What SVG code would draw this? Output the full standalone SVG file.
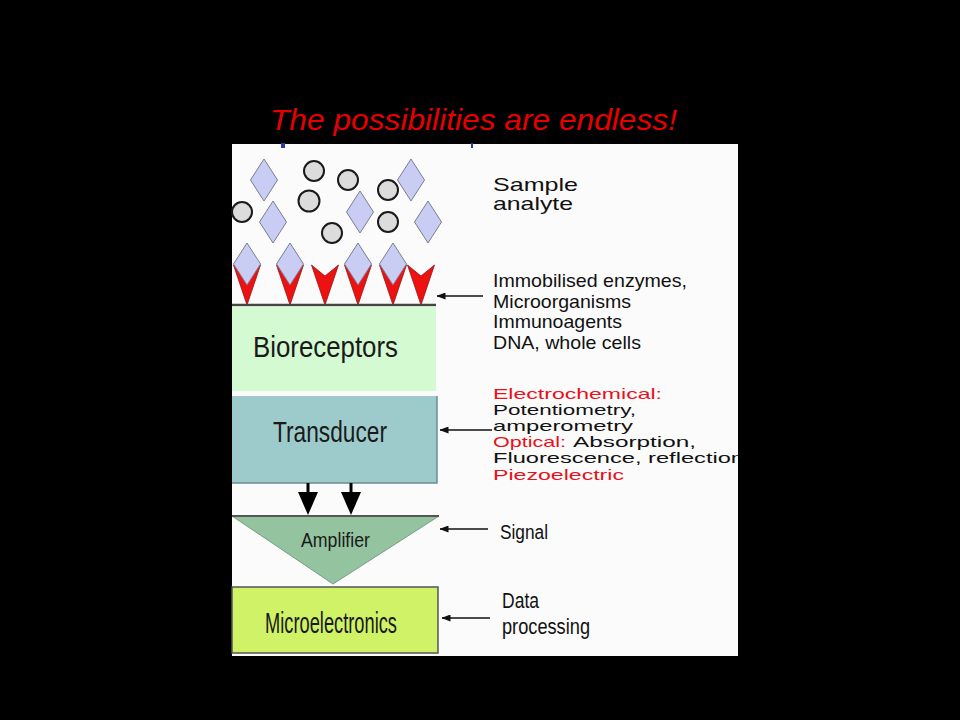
<svg xmlns="http://www.w3.org/2000/svg" xmlns:xlink="http://www.w3.org/1999/xlink" width="960" height="720" viewBox="0 0 960 720">
  <style>
    .t { font-family: "Liberation Sans", Arial, sans-serif; fill: #111; }
    .red { fill: #e8101a; }
    .lbl { font-family: "Liberation Sans", Arial, sans-serif; fill: #1a1a1a; }
    .mol { fill: #dcdcdc; stroke: #1a1a1a; stroke-width: 2; }
    .dia { fill: #c9cdf4; stroke: #7a7d92; stroke-width: 1; }
    .rec { fill: #ee1111; stroke: #8a1a1a; stroke-width: 0.8; }
    .thin { stroke: #111; stroke-width: 1.6; fill: none; marker-end: url(#ah); }
  </style>
  <defs>
    <marker id="ah" viewBox="0 0 9 7" refX="8.5" refY="3.5" markerWidth="9" markerHeight="7" markerUnits="userSpaceOnUse" orient="auto">
      <path d="M0,0 L9,3.5 L0,7 Z" fill="#111"/>
    </marker>
    <path id="dm" d="M0,-21 L13.5,0 L0,21 L-13.5,0 Z"/>
    <path id="vv" d="M-13.5,-40 L0,-29 L13.5,-40 L0,0 Z"/>
    <clipPath id="panel"><rect x="232" y="144" width="506" height="512"/></clipPath>
  </defs>

  <rect x="0" y="0" width="960" height="720" fill="#000"/>

  <text x="270" y="130" font-family="'Liberation Sans', Arial, sans-serif" font-style="italic" font-size="29" fill="#e60000" textLength="407" lengthAdjust="spacingAndGlyphs">The possibilities are endless!</text>

  <rect x="232" y="144" width="506" height="512" fill="#fbfbfb"/>
  <rect x="281" y="143" width="4" height="5" fill="#2a3aa8"/>
  <rect x="471" y="143" width="2" height="5" fill="#2a3aa8"/>

  <g id="analyte">
    <use href="#dm" class="dia" x="264" y="180"/>
    <use href="#dm" class="dia" x="273" y="222"/>
    <use href="#dm" class="dia" x="360" y="212"/>
    <use href="#dm" class="dia" x="411" y="180"/>
    <use href="#dm" class="dia" x="428" y="222"/>
    <circle class="mol" cx="314" cy="171" r="10"/>
    <circle class="mol" cx="348" cy="180" r="10"/>
    <circle class="mol" cx="388" cy="190" r="10"/>
    <circle class="mol" cx="309" cy="201" r="10.5"/>
    <circle class="mol" cx="242" cy="212" r="10"/>
    <circle class="mol" cx="332" cy="233" r="10"/>
    <circle class="mol" cx="388" cy="222" r="10"/>
  </g>

  <g id="receptors">
    <use href="#vv" class="rec" x="247" y="305"/>
    <use href="#vv" class="rec" x="290" y="305"/>
    <use href="#vv" class="rec" x="325" y="305"/>
    <use href="#vv" class="rec" x="358" y="305"/>
    <use href="#vv" class="rec" x="393" y="305"/>
    <use href="#vv" class="rec" x="421" y="305"/>
    <use href="#dm" class="dia" x="247" y="264"/>
    <use href="#dm" class="dia" x="290" y="264"/>
    <use href="#dm" class="dia" x="358" y="264"/>
    <use href="#dm" class="dia" x="393" y="264"/>
    <line x1="232" y1="305" x2="436" y2="305" stroke="#444" stroke-width="2.5"/>
  </g>

  <g id="bioreceptors">
    <rect x="232" y="306.5" width="204" height="84.5" fill="#d3fad0"/>
    <text class="lbl" x="253" y="357" font-size="30" textLength="145" lengthAdjust="spacingAndGlyphs">Bioreceptors</text>
  </g>

  <g id="transducer">
    <rect x="232" y="396" width="205" height="87" fill="#9dcbcb"/>
    <path d="M437,396 L437,483 L232,483" fill="none" stroke="#6b8e8e" stroke-width="1.5"/>
    <text class="lbl" x="273" y="442" font-size="30" textLength="114" lengthAdjust="spacingAndGlyphs">Transducer</text>
  </g>

  <g id="amplifier">
    <polygon points="232,516 439,516 333,584" fill="#94c3a0" stroke="#7a9e84" stroke-width="1"/>
    <line x1="232" y1="516" x2="439" y2="516" stroke="#555" stroke-width="2"/>
    <text class="lbl" x="301" y="547" font-size="19.5" textLength="69" lengthAdjust="spacingAndGlyphs">Amplifier</text>
  </g>

  <g id="microelectronics">
    <rect x="232" y="587" width="206" height="66" fill="#cff267" stroke="#555" stroke-width="1.5"/>
    <text class="lbl" x="265" y="633" font-size="29" textLength="132" lengthAdjust="spacingAndGlyphs">Microelectronics</text>
  </g>

  <g id="label-sample">
    <text class="t" x="493" y="191" font-size="18.5" textLength="85" lengthAdjust="spacingAndGlyphs">Sample</text>
    <text class="t" x="493" y="210" font-size="18.5" textLength="80" lengthAdjust="spacingAndGlyphs">analyte</text>
  </g>

  <g id="label-receptors">
    <text class="t" x="493" y="287" font-size="19" textLength="194" lengthAdjust="spacingAndGlyphs">Immobilised enzymes,</text>
    <text class="t" x="493" y="307.5" font-size="19" textLength="138" lengthAdjust="spacingAndGlyphs">Microorganisms</text>
    <text class="t" x="493" y="328" font-size="19" textLength="129" lengthAdjust="spacingAndGlyphs">Immunoagents</text>
    <text class="t" x="493" y="349" font-size="19" textLength="148" lengthAdjust="spacingAndGlyphs">DNA, whole cells</text>
  </g>

  <g id="label-transducer" clip-path="url(#panel)">
    <text class="t red" x="493" y="398.5" font-size="14.5" textLength="169" lengthAdjust="spacingAndGlyphs">Electrochemical:</text>
    <text class="t" x="493" y="414.7" font-size="14.5" textLength="143" lengthAdjust="spacingAndGlyphs">Potentiometry,</text>
    <text class="t" x="493" y="430.9" font-size="14.5" textLength="140" lengthAdjust="spacingAndGlyphs">amperometry</text>
    <text class="t red" x="493" y="447.1" font-size="14.5" textLength="73" lengthAdjust="spacingAndGlyphs">Optical:</text>
    <text class="t" x="573" y="447.1" font-size="14.5" textLength="123" lengthAdjust="spacingAndGlyphs">Absorption,</text>
    <text class="t" x="493" y="463.3" font-size="14.5" textLength="251" lengthAdjust="spacingAndGlyphs">Fluorescence, reflection</text>
    <text class="t red" x="493" y="479.5" font-size="14.5" textLength="131" lengthAdjust="spacingAndGlyphs">Piezoelectric</text>
  </g>

  <g id="label-signal">
    <text class="t" x="500" y="539" font-size="20" textLength="48" lengthAdjust="spacingAndGlyphs">Signal</text>
  </g>

  <g id="label-data">
    <text class="t" x="502" y="608" font-size="22" textLength="37" lengthAdjust="spacingAndGlyphs">Data</text>
    <text class="t" x="502" y="634" font-size="22" textLength="88" lengthAdjust="spacingAndGlyphs">processing</text>
  </g>

  <g id="connectors">
    <line class="thin" x1="483" y1="296" x2="437" y2="296"/>
    <line class="thin" x1="492" y1="430" x2="440" y2="430"/>
    <line class="thin" x1="488" y1="529" x2="440" y2="529"/>
    <line class="thin" x1="490" y1="618" x2="442" y2="618"/>
    <rect x="306.5" y="483" width="3" height="10" fill="#000"/>
    <polygon points="298,492 318,492 308,515" fill="#000"/>
    <rect x="349.5" y="483" width="3" height="10" fill="#000"/>
    <polygon points="341,492 361,492 351,515" fill="#000"/>
  </g>
</svg>
